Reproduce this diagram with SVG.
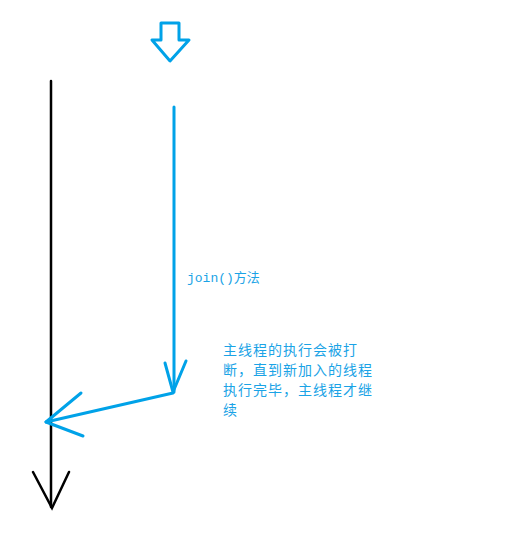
<svg xmlns="http://www.w3.org/2000/svg" width="513" height="543" viewBox="0 0 513 543">
<style>
.blue{stroke:#00A2E8;stroke-width:3;fill:none;stroke-linecap:round;stroke-linejoin:round}
.black{stroke:#000;stroke-width:2.5;fill:none;stroke-linecap:round}
.t{fill:#1AA3E6;font-family:"Noto Sans CJK SC","Liberation Sans",sans-serif;font-size:14px;letter-spacing:1px}
.m{fill:#1AA3E6;font-family:"Liberation Mono","Noto Sans CJK SC",monospace;font-size:13px}
</style>
<rect width="513" height="543" fill="#fff"/>
<g id="start-arrow">
<path class="blue" stroke-width="2.5" d="M161,23 H179 V40 H189 L170,61 L152,40 H161 Z"/>
</g>
<g id="main-thread">
<line class="black" x1="51" y1="81" x2="51" y2="507"/>
<path class="black" d="M33,472 L52,508 L69,472"/>
</g>
<g id="joined-thread">
<line class="blue" x1="174" y1="107" x2="174" y2="392"/>
</g>
<g id="connectors">
<path class="blue" d="M165,363 L173,392 L186,361"/>
<line class="blue" x1="173" y1="393" x2="46" y2="422"/>
<path class="blue" d="M81,393 L46,422 L83,436"/>
</g>
<g id="labels">
<text class="m" x="187" y="282">join()方法</text>
<text class="t" x="223" y="355">主线程的执行会被打</text>
<text class="t" x="223" y="375">断，直到新加入的线程</text>
<text class="t" x="223" y="395">执行完毕，主线程才继</text>
<text class="t" x="223" y="415">续</text>
</g>
</svg>
